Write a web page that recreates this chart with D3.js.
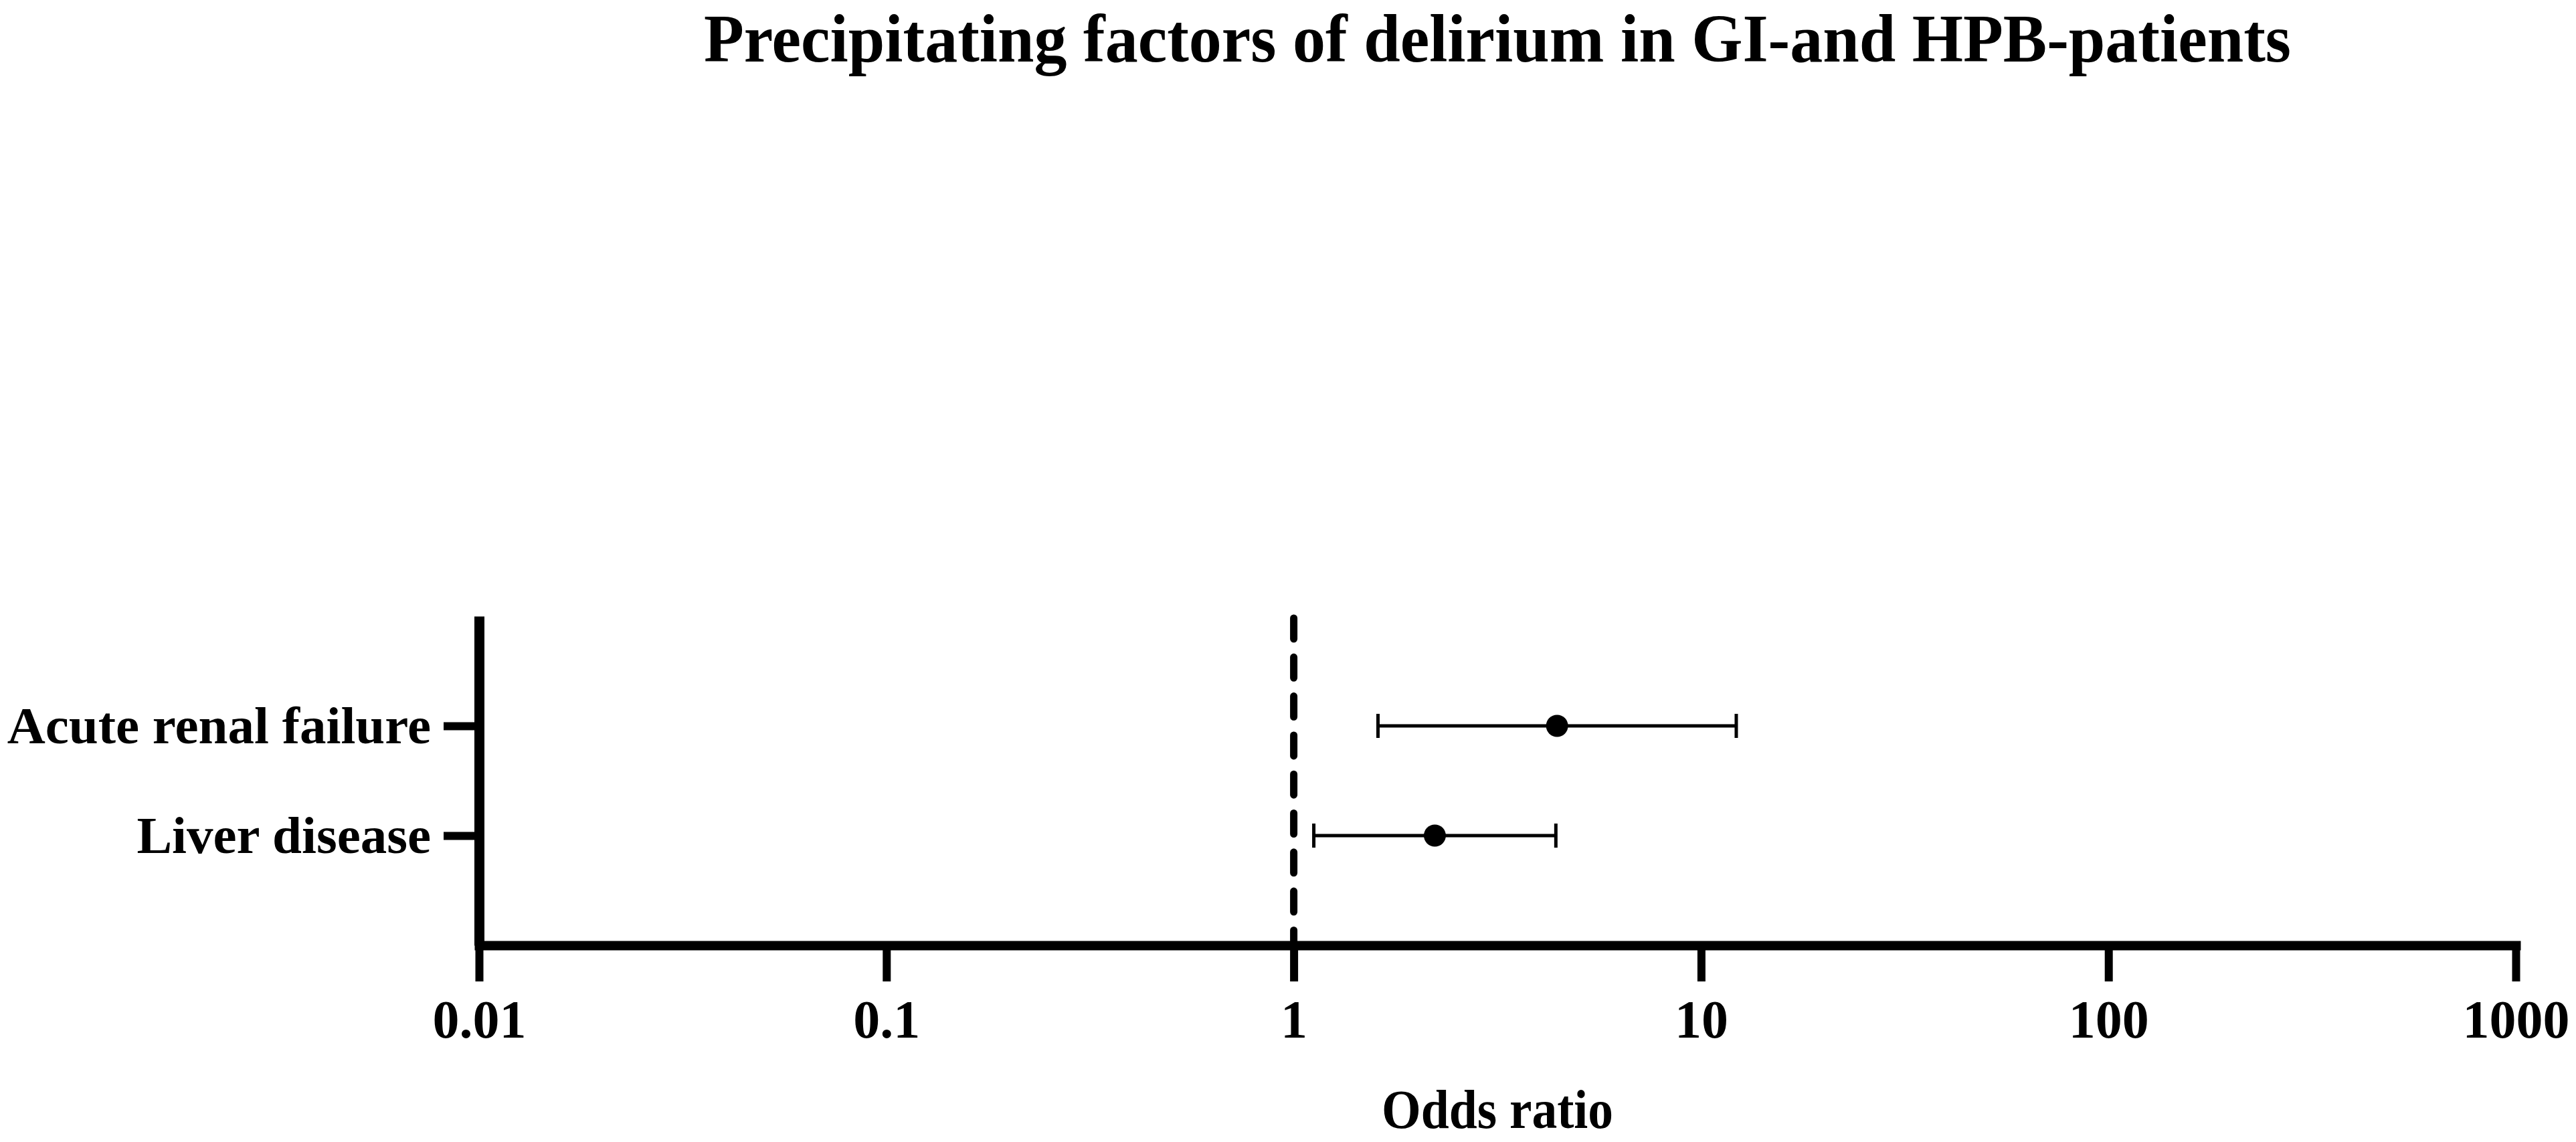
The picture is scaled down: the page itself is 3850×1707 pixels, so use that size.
<!DOCTYPE html>
<html>
<head>
<meta charset="utf-8">
<script src="https://cdn.jsdelivr.net/npm/d3@7"></script>
<style>
  html, body { margin: 0; padding: 0; background: #ffffff; }
  svg { display: block; }
  text { font-family: "Liberation Serif", "Times New Roman", serif; font-weight: bold; fill: #000; }
</style>
</head>
<body>
<svg id="chart" width="3850" height="1707"></svg>
<script>
// ---- data ----
const categories = ["Acute renal failure", "Liver disease"];
const oddsRatio  = [4.43, 2.22];
const ciLower    = [1.61, 1.12];
const ciUpper    = [12.2, 4.40];
const tickValues = [0.01, 0.1, 1, 10, 100, 1000];
const tickLabels = ["0.01", "0.1", "1", "10", "100", "1000"];
const catPositions = [2, 1];   // row positions on the y scale (0..3)
const referenceValue = 1;
const titleText = "Precipitating factors of delirium in GI-and HPB-patients";
const xAxisTitle = "Odds ratio";

// ---- layout ----
const W = 3850, H = 1707;
const plotLeft = 716, plotRight = 3760, plotTop = 921, plotBottom = 1413;

const svg = d3.select("#chart");
svg.append("rect").attr("width", W).attr("height", H).attr("fill", "#fff");

const x = d3.scaleLog().domain([0.01, 1000]).range([plotLeft, plotRight]);
const y = d3.scaleLinear().domain([0, 3]).range([plotBottom, plotTop]);

// ---- title ----
svg.append("text")
  .attr("x", (plotLeft + plotRight) / 2)
  .attr("y", 92)
  .attr("text-anchor", "middle")
  .attr("font-size", 102)
  .attr("textLength", 2372)
  .attr("lengthAdjust", "spacingAndGlyphs")
  .text(titleText);

// ---- x axis ----
const xAxis = d3.axisBottom(x)
  .tickValues(tickValues)
  .tickFormat((d, i) => tickLabels[i])
  .tickSize(54)
  .tickSizeOuter(0);

const gx = svg.append("g").attr("transform", `translate(0,${plotBottom})`).call(xAxis);
gx.select(".domain").attr("stroke", "#000").attr("stroke-width", 14).attr("stroke-linecap", "square");
gx.selectAll(".tick line").attr("stroke", "#000").attr("stroke-width", 12);
gx.selectAll(".tick text")
  .attr("y", 138).attr("dy", 0)
  .attr("font-size", 80)
  .attr("font-family", "Liberation Serif, Times New Roman, serif")
  .attr("font-weight", "bold")
  .attr("fill", "#000");

// ---- y axis ----
const yAxis = d3.axisLeft(y)
  .tickValues(catPositions)
  .tickFormat((d, i) => categories[i])
  .tickSize(53)
  .tickSizeOuter(0);

const gy = svg.append("g").attr("transform", `translate(${plotLeft},0)`).call(yAxis);
gy.select(".domain").attr("stroke", "#000").attr("stroke-width", 15).attr("stroke-linecap", "butt");
gy.selectAll(".tick line").attr("stroke", "#000").attr("stroke-width", 12);
gy.selectAll(".tick text")
  .attr("x", -72).attr("dy", "0.32em")
  .attr("font-size", 79)
  .attr("font-family", "Liberation Serif, Times New Roman, serif")
  .attr("font-weight", "bold")
  .attr("fill", "#000");

// ---- reference line at OR = 1 ----
svg.append("line")
  .attr("x1", x(referenceValue)).attr("x2", x(referenceValue))
  .attr("y1", plotTop + 3).attr("y2", plotBottom)
  .attr("stroke", "#000")
  .attr("stroke-width", 11)
  .attr("stroke-linecap", "round")
  .attr("stroke-dasharray", "31,27.3");

// ---- error bars and points ----
const rows = categories.map((c, i) => ({ c, or: oddsRatio[i], lo: ciLower[i], hi: ciUpper[i], pos: catPositions[i] }));
const g = svg.append("g");

g.selectAll(".ci").data(rows).enter().append("line")
  .attr("x1", d => x(d.lo)).attr("x2", d => x(d.hi))
  .attr("y1", d => y(d.pos)).attr("y2", d => y(d.pos))
  .attr("stroke", "#000").attr("stroke-width", 5);

g.selectAll(".capLo").data(rows).enter().append("line")
  .attr("x1", d => x(d.lo)).attr("x2", d => x(d.lo))
  .attr("y1", d => y(d.pos) - 18).attr("y2", d => y(d.pos) + 18)
  .attr("stroke", "#000").attr("stroke-width", 5);

g.selectAll(".capHi").data(rows).enter().append("line")
  .attr("x1", d => x(d.hi)).attr("x2", d => x(d.hi))
  .attr("y1", d => y(d.pos) - 18).attr("y2", d => y(d.pos) + 18)
  .attr("stroke", "#000").attr("stroke-width", 5);

g.selectAll(".pt").data(rows).enter().append("circle")
  .attr("cx", d => x(d.or)).attr("cy", d => y(d.pos))
  .attr("r", 16.5).attr("fill", "#000");

// ---- x axis title ----
svg.append("text")
  .attr("x", (plotLeft + plotRight) / 2)
  .attr("y", 1686)
  .attr("text-anchor", "middle")
  .attr("font-size", 82)
  .attr("textLength", 346)
  .attr("lengthAdjust", "spacingAndGlyphs")
  .text(xAxisTitle);
</script>
</body>
</html>
